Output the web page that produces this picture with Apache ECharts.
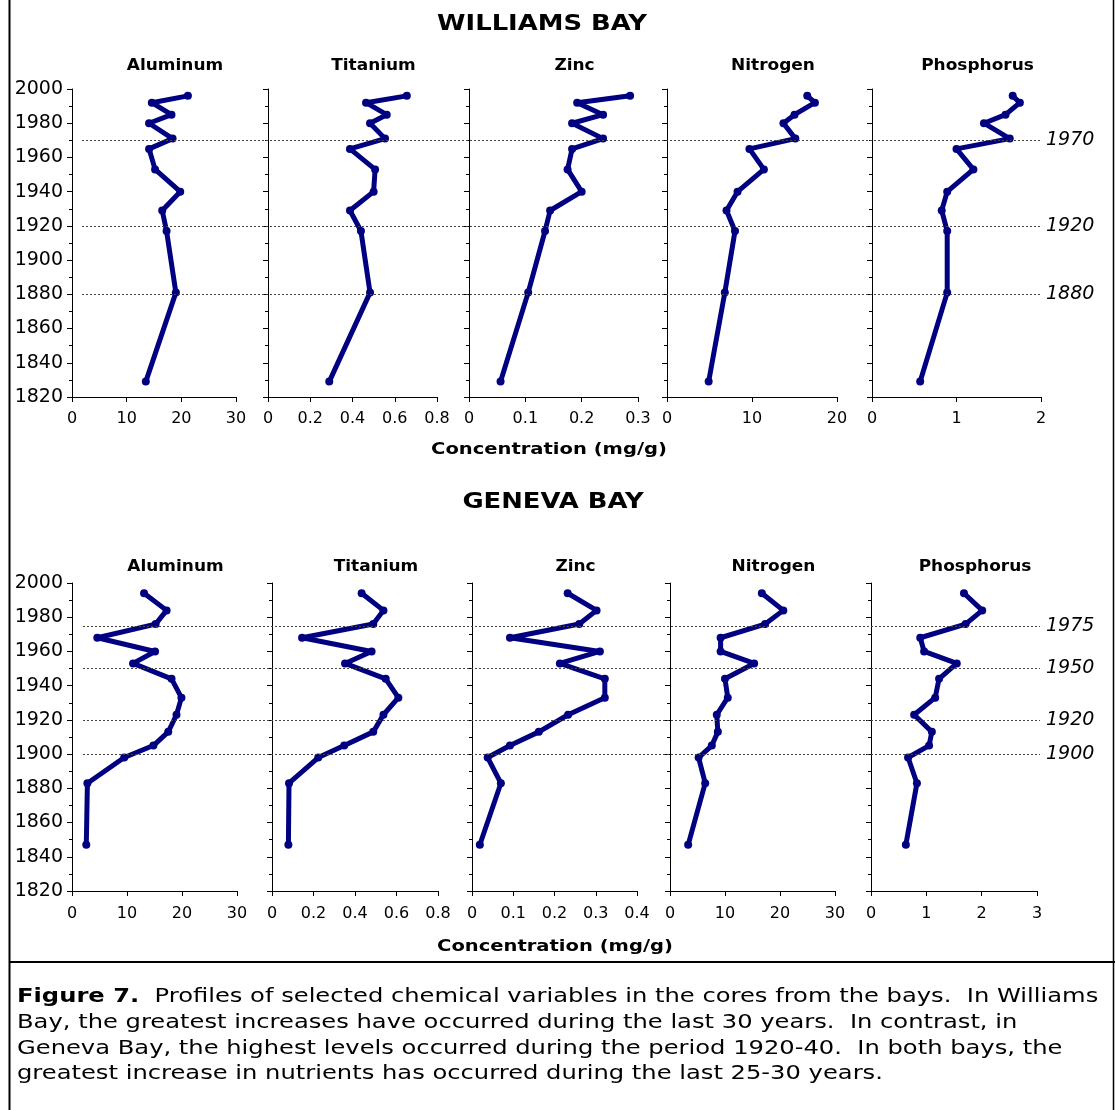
<!DOCTYPE html>
<html>
<head>
<meta charset="utf-8">
<script src="https://cdn.jsdelivr.net/npm/echarts@6/dist/echarts.min.js"></script>
<style>html,body{margin:0;padding:0;background:#fff}#c{width:1115px;height:1110px}</style>
</head>
<body>
<div id="c"></div>
<script>
// ---------- DATA ----------
const elements = ['Aluminum', 'Titanium', 'Zinc', 'Nitrogen', 'Phosphorus'];

// Williams Bay core (years and concentrations, mg/g)
const wbYears = [1996, 1992, 1985, 1980, 1971, 1965, 1953, 1940, 1929, 1917, 1881, 1829];
const wbAluminum   = [21.2, 14.6, 18.2, 14.1, 18.4, 14.1, 15.2, 19.8, 16.5, 17.3, 19.0, 13.5];
const wbTitanium   = [0.657, 0.464, 0.562, 0.483, 0.554, 0.388, 0.507, 0.500, 0.388, 0.440, 0.483, 0.290];
const wbZinc       = [0.286, 0.192, 0.238, 0.183, 0.238, 0.183, 0.175, 0.200, 0.144, 0.135, 0.105, 0.056];
const wbNitrogen   = [16.5, 17.4, 15.0, 13.7, 15.1, 9.7, 11.4, 8.3, 7.0, 8.0, 6.8, 4.9];
const wbPhosphorus = [1.665, 1.75, 1.58, 1.325, 1.63, 1.0, 1.2, 0.89, 0.825, 0.89, 0.89, 0.57];

// Geneva Bay core
const gbYears = [1994, 1984, 1976, 1968, 1960, 1953, 1944, 1933, 1923, 1913, 1905, 1898, 1883, 1847];
const gbAluminum   = [13.1, 17.2, 15.2, 4.6, 15.1, 11.1, 18.1, 19.9, 19.0, 17.5, 14.8, 9.5, 2.8, 2.6];
const gbTitanium   = [0.432, 0.537, 0.488, 0.145, 0.480, 0.352, 0.548, 0.609, 0.537, 0.488, 0.348, 0.223, 0.082, 0.079];
const gbZinc       = [0.232, 0.302, 0.260, 0.092, 0.310, 0.213, 0.322, 0.322, 0.233, 0.162, 0.092, 0.038, 0.070, 0.019];
const gbNitrogen   = [16.7, 20.6, 17.3, 9.2, 9.2, 15.3, 10.0, 10.5, 8.5, 8.7, 7.6, 5.2, 6.4, 3.3];
const gbPhosphorus = [1.68, 2.01, 1.71, 0.89, 0.96, 1.55, 1.23, 1.16, 0.78, 1.10, 1.05, 0.67, 0.83, 0.63];

// Axis ranges (max, interval) per panel
const wbXMax = [30, 0.8, 0.3, 20, 2];
const wbXInt = [10, 0.2, 0.1, 10, 1];
const gbXMax = [30, 0.8, 0.4, 30, 3];
const gbXInt = [10, 0.2, 0.1, 10, 1];

// Dotted reference years
const wbRefYears = [1970, 1920, 1880];
const gbRefYears = [1975, 1950, 1920, 1900];

const yearMin = 1820, yearMax = 2000, yearStep = 20;

const captionLines = [
  '{b|Figure 7.}  Profiles of selected chemical variables in the cores from the bays.  In Williams',
  'Bay, the greatest increases have occurred during the last 30 years.  In contrast, in',
  'Geneva Bay, the highest levels occurred during the period 1920-40.  In both bays, the',
  'greatest increase in nutrients has occurred during the last 25-30 years.'
];

// ---------- LAYOUT ----------
const FONT = '"DejaVu Sans", "Liberation Sans", sans-serif';
const NAVY = '#000080';
const rows = [
  { top: 89, height: 308, lefts: [72, 268, 469, 667, 872], widths: [164, 169, 169, 170, 169],
    years: wbYears, vals: [wbAluminum, wbTitanium, wbZinc, wbNitrogen, wbPhosphorus],
    xMax: wbXMax, xInt: wbXInt, refs: wbRefYears, refLeft: 82, refWidth: 958, xMargin: 14,
    titleY: 66, bayTitle: 'WILLIAMS BAY', bayY: 25, bayX: 542, concY: 450, concX: 549 },
  { top: 583, height: 308, lefts: [72, 272, 472, 670, 871], widths: [165, 166, 165, 165, 166],
    years: gbYears, vals: [gbAluminum, gbTitanium, gbZinc, gbNitrogen, gbPhosphorus],
    xMax: gbXMax, xInt: gbXInt, refs: gbRefYears, refLeft: 83, refWidth: 957, xMargin: 15,
    titleY: 567, bayTitle: 'GENEVA BAY', bayY: 503, bayX: 553, concY: 947, concX: 555 }
];

const graphic = [
  { type: 'line', shape: { x1: 9.5, y1: 0, x2: 9.5, y2: 1110 }, style: { stroke: '#000', lineWidth: 2 } },
  { type: 'line', shape: { x1: 1113.5, y1: 0, x2: 1113.5, y2: 1110 }, style: { stroke: '#000', lineWidth: 1.5 } },
  { type: 'line', shape: { x1: 9, y1: 962, x2: 1115, y2: 962 }, style: { stroke: '#000', lineWidth: 2 } }
];
function addText(text, x, y, size, scaleX, bold) {
  graphic.push({
    type: 'text', x: x, y: y, scaleX: scaleX, scaleY: 1,
    style: { text: text, align: 'center', verticalAlign: 'middle', fill: '#000',
             fontSize: size, fontWeight: bold ? 'bold' : 'normal', fontFamily: FONT }
  });
}

const grid = [], xAxis = [], yAxis = [], series = [];
let gi = 0;
rows.forEach((r) => {
  for (let p = 0; p < 5; p++) {
    grid.push({ left: r.lefts[p], top: r.top, width: r.widths[p], height: r.height, containLabel: false });
    xAxis.push({
      type: 'value', gridIndex: gi, min: 0, max: r.xMax[p], interval: r.xInt[p],
      axisLine: { show: true, onZero: false, lineStyle: { color: '#000', width: 1 } },
      axisTick: { show: true, inside: false, length: 5, lineStyle: { color: '#000' } },
      axisLabel: { show: true, color: '#000', fontSize: 16, fontFamily: FONT, margin: r.xMargin,
                   formatter: v => String(Math.round(v * 10) / 10) },
      splitLine: { show: false }
    });
    yAxis.push({
      type: 'value', gridIndex: gi, min: yearMin, max: yearMax, interval: yearStep,
      axisLine: { show: true, onZero: false, lineStyle: { color: '#000', width: 1 } },
      axisTick: { show: true, inside: false, length: 5, lineStyle: { color: '#000' } },
      minorTick: { show: true, splitNumber: 2, length: 3, lineStyle: { color: '#000' } },
      axisLabel: { show: p === 0, color: '#000', fontSize: 19, fontFamily: FONT, margin: 9,
                   formatter: v => String(v) },
      splitLine: { show: false }
    });
    series.push({
      type: 'line', xAxisIndex: gi, yAxisIndex: gi,
      data: r.years.map((y, i) => [r.vals[p][i], y]),
      symbol: 'circle', symbolSize: 8, showSymbol: true,
      lineStyle: { color: NAVY, width: 5, join: 'round', cap: 'round' },
      itemStyle: { color: NAVY },
      animation: false, silent: true, z: 3
    });
    addText(elements[p], r.lefts[p] + r.widths[p] / 2 + 21, r.titleY, 16, 1.06, true);
    gi++;
  }
  // overlay grid for the dotted reference lines spanning the panels
  grid.push({ left: r.refLeft, top: r.top, width: r.refWidth, height: r.height });
  xAxis.push({ type: 'value', gridIndex: gi, min: 0, max: 1, show: false });
  yAxis.push({ type: 'value', gridIndex: gi, min: yearMin, max: yearMax, show: false });
  series.push({
    type: 'line', xAxisIndex: gi, yAxisIndex: gi, data: [[0, yearMin]],
    symbol: 'none', lineStyle: { opacity: 0 }, silent: true, animation: false, z: 1,
    markLine: {
      symbol: 'none', silent: true, animation: false,
      lineStyle: { type: [2, 2], color: '#444', width: 1 },
      label: { show: true, position: 'end', distance: 6, formatter: d => String(d.value),
               fontStyle: 'italic', fontSize: 19, color: '#000', fontFamily: FONT },
      data: r.refs.map(y => ({ yAxis: y }))
    }
  });
  gi++;
  addText(r.bayTitle, r.bayX, r.bayY, 21, 1.23, true);
  addText('Concentration (mg/g)', r.concX, r.concY, 16, 1.22, true);
});

const CAP_SIZE = 20;
captionLines.forEach((t, i) => {
  graphic.push({
    type: 'text', x: 17, y: 997 + i * 25.7, scaleX: 1.21, scaleY: 1,
    style: { text: t, fill: '#000', fontSize: CAP_SIZE, fontFamily: FONT, verticalAlign: 'middle',
             rich: { b: { fontWeight: 'bold', fontSize: CAP_SIZE, fontFamily: FONT } } }
  });
});

const chart = echarts.init(document.getElementById('c'), null, { renderer: 'canvas' });
chart.setOption({ animation: false, backgroundColor: '#fff', grid, xAxis, yAxis, series, graphic });
</script>
</body>
</html>
